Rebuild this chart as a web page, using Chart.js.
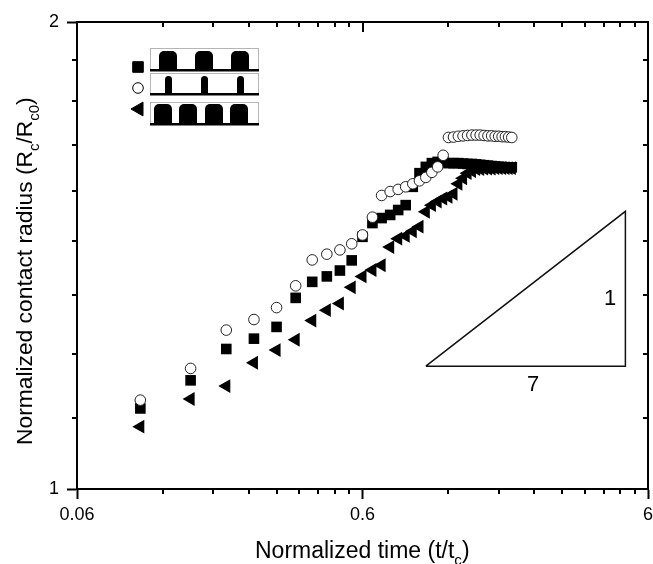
<!DOCTYPE html>
<html>
<head>
<meta charset="utf-8">
<script src="https://cdn.jsdelivr.net/npm/chart.js@4"></script>
<style>
  html, body { margin: 0; padding: 0; background: #fff; }
  canvas { display: block; }
</style>
</head>
<body>
<canvas id="contactChart" width="653" height="564"></canvas>
<script>
// Values
const timeValues = [0.1, 0.15, 0.2, 0.25, 0.3, 0.35, 0.4, 0.45, 0.5, 0.55, 0.6, 0.65, 0.7, 0.75, 0.8, 0.85, 0.9, 0.95, 1.0, 1.05,
  1.1, 1.15, 1.2, 1.25, 1.3, 1.35, 1.4, 1.45, 1.5, 1.55, 1.6, 1.65, 1.7, 1.75, 1.8, 1.85, 1.9, 1.95, 2.0];
const radiusSquare = [1.127, 1.175, 1.231, 1.25, 1.272, 1.328, 1.36, 1.371, 1.383, 1.404, 1.454, 1.484, 1.495, 1.502, 1.513, 1.524, 1.566, 1.598, 1.613, 1.622,
  1.625, 1.626, 1.622, 1.622, 1.622, 1.621, 1.62, 1.62, 1.619, 1.618, 1.617, 1.616, 1.615, 1.614, 1.613, 1.613, 1.612, 1.612, 1.612];
const radiusCircle = [1.141, 1.196, 1.266, 1.286, 1.309, 1.352, 1.405, 1.417, 1.426, 1.439, 1.458, 1.497, 1.546, 1.555, 1.56, 1.566, 1.573, 1.58, 1.588, 1.6,
  1.613, 1.641, 1.685, 1.686, 1.688, 1.689, 1.69, 1.691, 1.691, 1.691, 1.69, 1.689, 1.689, 1.688, 1.688, 1.687, 1.687, 1.686, 1.685];
const radiusTriangle = [1.097, 1.143, 1.165, 1.206, 1.229, 1.248, 1.284, 1.304, 1.317, 1.349, 1.371, 1.384, 1.394, 1.432, 1.45, 1.456, 1.466, 1.476, 1.509, 1.524,
  1.532, 1.539, 1.543, 1.55, 1.573, 1.586, 1.598, 1.603, 1.608, 1.608, 1.609, 1.609, 1.609, 1.61, 1.61, 1.61, 1.61, 1.61, 1.61];

// Slope triangle (1:7)
const slopeX = [1, 5, 5, 1];
const slopeY = [1.2, 1.2, 1.51, 1.2];

// Axis ticks
const xMajorTicks = [0.06, 0.6, 6];
const xMinorTicks = [0.12, 0.18, 0.24, 0.3, 0.36, 0.42, 0.48, 0.54, 1.2, 1.8, 2.4, 3, 3.6, 4.2, 4.8, 5.4];
const yMajorTicks = [1, 2];
const yMinorTicks = [1.111, 1.222, 1.333, 1.444, 1.556, 1.667, 1.778, 1.889];

const FONT = '"Liberation Sans", Arial, sans-serif';

function points(ys) {
  return timeValues.map((t, i) => ({ x: t, y: ys[i] }));
}

// Texts with subscripts, drawn piece by piece
function drawPieces(ctx, pieces, x, y, size) {
  pieces.forEach(p => {
    const s = p.sub ? size * 0.66 : size;
    ctx.font = s + 'px ' + FONT;
    ctx.fillText(p.text, x, p.sub ? y + size * 0.3 : y);
    x += ctx.measureText(p.text).width;
  });
}

// Minor ticks, top and right frame, axis titles, slope labels
const framePlugin = {
  id: 'frame',
  afterDraw(chart) {
    const ctx = chart.ctx, a = chart.chartArea, xs = chart.scales.x, ys = chart.scales.y;
    ctx.save();
    ctx.strokeStyle = '#000';
    ctx.fillStyle = '#000';
    ctx.lineWidth = 2;
    ctx.strokeRect(a.left, a.top, a.right - a.left, a.bottom - a.top);

    ctx.beginPath();
    xMinorTicks.forEach(v => {
      const p = Math.round(xs.getPixelForValue(v));
      ctx.moveTo(p, a.bottom); ctx.lineTo(p, a.bottom + 5);
      ctx.moveTo(p, a.top); ctx.lineTo(p, a.top + 5);
    });
    xMajorTicks.forEach(v => {
      const p = Math.round(xs.getPixelForValue(v));
      ctx.moveTo(p, a.top); ctx.lineTo(p, a.top + 10);
    });
    yMinorTicks.forEach(v => {
      const p = Math.round(ys.getPixelForValue(v));
      ctx.moveTo(a.left, p); ctx.lineTo(a.left - 5, p);
      ctx.moveTo(a.right, p); ctx.lineTo(a.right - 5, p);
    });
    yMajorTicks.forEach(v => {
      const p = Math.round(ys.getPixelForValue(v));
      ctx.moveTo(a.right, p); ctx.lineTo(a.right - 10, p);
    });
    ctx.stroke();

    ctx.textBaseline = 'alphabetic';
    ctx.textAlign = 'left';
    drawPieces(ctx, [{ text: 'Normalized time (t/t' }, { text: 'c', sub: true }, { text: ')' }], 255, 558, 23);

    ctx.save();
    ctx.translate(32, 445);
    ctx.rotate(-Math.PI / 2);
    drawPieces(ctx, [{ text: 'Normalized contact radius (R' }, { text: 'c', sub: true }, { text: '/R' }, { text: 'c0', sub: true }, { text: ')' }], 0, 0, 22.8);
    ctx.restore();

    ctx.font = '22px ' + FONT;
    ctx.textAlign = 'center';
    ctx.textBaseline = 'middle';
    ctx.fillText('1', 610, 299);
    ctx.fillText('7', 533, 385);
    ctx.restore();
  }
};

// Waveform inset with its three markers
const insetPlugin = {
  id: 'inset',
  afterDraw(chart) {
    const ctx = chart.ctx;
    const boxes = [
      { top: 48, bottom: 70, pulseTop: 51, w: 18, starts: [159, 195, 231], style: 'rect', my: 67, mx: 138 },
      { top: 73, bottom: 94, pulseTop: 76, w: 7, starts: [165, 201, 237], style: 'circle', my: 88, mx: 138 },
      { top: 102, bottom: 124, pulseTop: 104, w: 18, starts: [154, 179, 205, 230], style: 'triangle', my: 109, mx: 139 }
    ];
    ctx.save();
    boxes.forEach(b => {
      ctx.strokeStyle = '#b5b5b5';
      ctx.lineWidth = 1;
      ctx.strokeRect(150.5, b.top + 0.5, 108, b.bottom - b.top);
      ctx.fillStyle = '#000';
      b.starts.forEach(s => {
        ctx.beginPath();
        ctx.roundRect(s, b.pulseTop, b.w, b.bottom - b.pulseTop, [Math.min(5, b.w / 2), Math.min(5, b.w / 2), 0, 0]);
        ctx.fill();
      });
      ctx.fillRect(150, b.bottom - 1, 109, 2.5);

      ctx.fillStyle = b.style === 'circle' ? '#fff' : '#000';
      ctx.strokeStyle = '#000';
      ctx.lineWidth = 1;
      const opts = {
        pointStyle: b.style,
        rotation: b.style === 'triangle' ? -90 : 0,
        radius: b.style === 'circle' ? 5.3 : (b.style === 'rect' ? 7.5 : 8),
        borderWidth: 1
      };
      Chart.helpers.drawPoint(ctx, opts, b.mx, b.my);
    });
    ctx.restore();
  }
};

const ctx = document.getElementById('contactChart').getContext('2d');
new Chart(ctx, {
  type: 'scatter',
  data: {
    datasets: [
      {
        label: 'circle',
        data: points(radiusCircle),
        pointStyle: 'circle',
        pointRadius: 5.3,
        pointBackgroundColor: '#fff',
        pointBorderColor: '#222',
        pointBorderWidth: 1
      },
      {
        label: 'triangle',
        data: points(radiusTriangle),
        pointStyle: 'triangle',
        pointRotation: -90,
        pointRadius: 8,
        pointBackgroundColor: '#000',
        pointBorderColor: '#000',
        pointBorderWidth: 0
      },
      {
        label: 'square',
        data: points(radiusSquare),
        pointStyle: 'rect',
        pointRadius: 7.5,
        pointBackgroundColor: '#000',
        pointBorderColor: '#000',
        pointBorderWidth: 0
      },
      {
        label: 'slope',
        data: slopeX.map((x, i) => ({ x: x, y: slopeY[i] })),
        showLine: true,
        borderColor: '#111',
        borderWidth: 1.5,
        pointRadius: 0,
        tension: 0
      }
    ]
  },
  options: {
    responsive: false,
    animation: false,
    layout: { autoPadding: false, padding: { top: 22, right: 5, left: 0, bottom: 0 } },
    plugins: { legend: { display: false }, tooltip: { enabled: false } },
    scales: {
      x: {
        type: 'logarithmic',
        min: 0.06,
        max: 6,
        afterBuildTicks: scale => { scale.ticks = xMajorTicks.map(v => ({ value: v })); },
        afterFit: scale => { scale.height = 75; scale.paddingRight = 0; scale.paddingLeft = 0; },
        grid: { drawOnChartArea: false, tickLength: 10, tickColor: '#000', tickWidth: 2 },
        border: { color: '#000', width: 2 },
        ticks: {
          callback: v => String(v),
          autoSkip: false,
          maxRotation: 0,
          padding: 5,
          color: '#000',
          font: { family: FONT, size: 18 }
        }
      },
      y: {
        type: 'logarithmic',
        min: 1,
        max: 2,
        afterBuildTicks: scale => { scale.ticks = yMajorTicks.map(v => ({ value: v })); },
        afterFit: scale => { scale.width = 77; },
        grid: { drawOnChartArea: false, tickLength: 10, tickColor: '#000', tickWidth: 2 },
        border: { color: '#000', width: 2 },
        ticks: {
          callback: v => String(v),
          autoSkip: false,
          padding: 8,
          color: '#000',
          font: { family: FONT, size: 18 }
        }
      }
    }
  },
  plugins: [framePlugin, insetPlugin]
});
</script>
</body>
</html>
